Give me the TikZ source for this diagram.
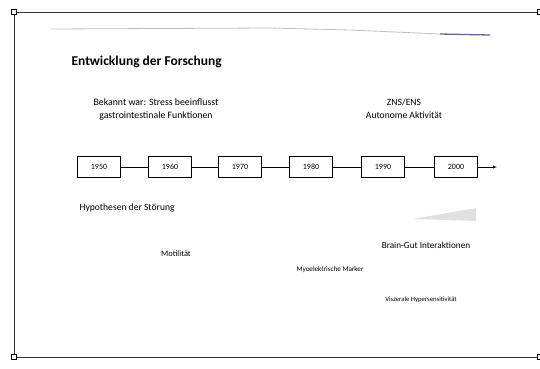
\documentclass[tikz,border=0pt]{standalone}
\usepackage{fontspec}
\setmainfont{Carlito}
\usetikzlibrary{arrows}

\begin{document}
\begin{tikzpicture}[>=latex, x=1pt, y=-1pt, font=\rmfamily]
\tikzset{yearbox/.style={draw, thin, minimum width=43pt, minimum height=21pt, font=\fontsize{8}{9}\selectfont},
handle/.style={draw, thin, fill=white, minimum size=5pt, inner sep=0pt}}

\useasboundingbox (0, 0) rectangle (540, 368);

% frame with handles
\draw[thick, black!80] (14, 12) rectangle (545, 357);
\node[handle] (h1) at (14, 12) {};
\node[handle] (h2) at (14, 357) {};
\node[handle] (h3) at (540, 12) {};
\node[handle] (h4) at (540, 357) {};

% slide header
\draw[black!25, line width=0.8pt] (50, 29) -- (270, 28) -- (350, 30) -- (440, 34);
\draw[blue!30!black!60, line width=1.3pt] (440, 34) -- (490, 35);

\node[anchor=west, font=\fontsize{13.5}{15}\selectfont\bfseries] (title) at (68, 62) {Entwicklung der Forschung};

\node[align=center, font=\fontsize{9.8}{13}\selectfont] (known) at (156, 109) {Bekannt war: Stress beeinflusst\\gastrointestinale Funktionen};
\node[align=center, font=\fontsize{9.6}{13}\selectfont] (zns) at (404, 109) {ZNS/ENS\\Autonome Aktivit\"at};

% timeline
\foreach \yr/\px in {1950/99, 1960/170, 1970/240, 1980/311, 1990/383, 2000/456}
  \node[yearbox] (y\yr) at (\px, 167) {\yr};
\foreach \a/\b in {1950/1960, 1960/1970, 1970/1980, 1980/1990, 1990/2000}
  \draw (y\a) -- (y\b);
\coordinate (tend) at (497, 167);
\draw[->] (y2000) -- (tend);

\node[anchor=west, font=\fontsize{9.6}{11}\selectfont] (hyp) at (76, 208) {Hypothesen der St\"orung};
\node[font=\fontsize{8.4}{10}\selectfont] (mot) at (176, 254) {Motilit\"at};

\fill[black!12] (412, 219) -- (476, 208) -- (476, 221) -- cycle;
\node[font=\fontsize{9.2}{11}\selectfont] (bgi) at (426, 245) {Brain-Gut Interaktionen};
\node[font=\fontsize{7.1}{8}\selectfont] (myo) at (330, 270) {Myoelektrische Marker};
\node[font=\fontsize{6.7}{8}\selectfont] (visz) at (421, 300) {Viszerale Hypersensitivit\"at};

\end{tikzpicture}
\end{document}
